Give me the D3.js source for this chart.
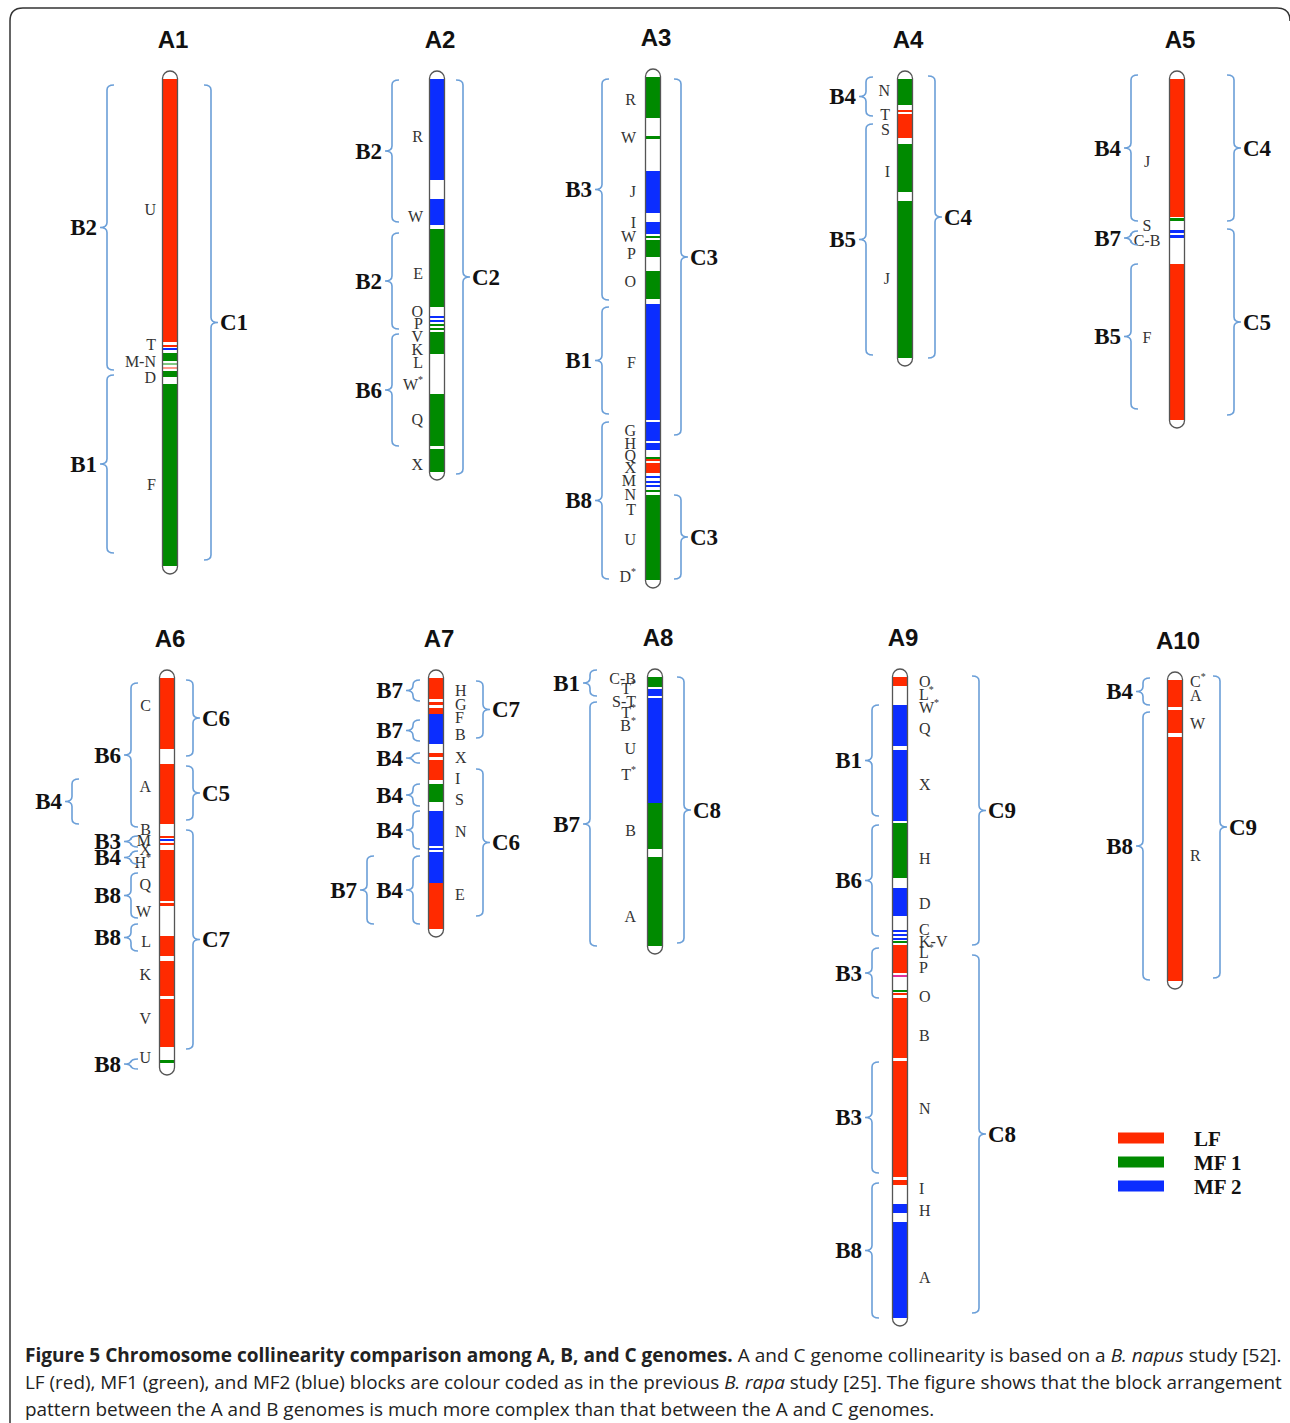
<!DOCTYPE html>
<html>
<head>
<meta charset="utf-8">
<script src="https://cdn.jsdelivr.net/npm/d3@7"></script>
<style>
  body { margin: 0; background: #fff; }
</style>
</head>
<body>
<svg id="fig" width="1290" height="1423"></svg>
<script>
// chromosomes of the A genome and their drawn length (map units)
const chromosomes = ["A1", "A2", "A3", "A4", "A5", "A6", "A7", "A8", "A9", "A10"];
const chromLength = [487, 393, 503, 279, 341, 389, 251, 269, 641, 301];

// coloured blocks: [chromosome, start, end, block type]
const blocks = [
  ["A1", 0, 263, "LF"], ["A1", 266, 268, "LF"], ["A1", 269, 271, "MF2"], ["A1", 274, 282, "MF1"],
  ["A1", 284, 286, "MF1pale"], ["A1", 288, 290, "LFpale"], ["A1", 292, 298, "MF1"], ["A1", 305, 487, "MF1"],
  ["A2", 0, 101, "MF2"], ["A2", 120, 146, "MF2"], ["A2", 150, 228, "MF1"], ["A2", 237, 239, "MF2"],
  ["A2", 241, 243, "MF2"], ["A2", 245, 247, "MF1"], ["A2", 249, 251, "MF1"], ["A2", 253, 275, "MF1"],
  ["A2", 315, 367, "MF1"], ["A2", 370, 393, "MF1"],
  ["A3", 0, 41, "MF1"], ["A3", 59, 62, "MF1"], ["A3", 94, 136, "MF2"], ["A3", 145, 157, "MF2"],
  ["A3", 159, 161, "MF1"], ["A3", 163, 180, "MF1"], ["A3", 194, 222, "MF1"], ["A3", 227, 343, "MF2"],
  ["A3", 345, 364, "MF2"], ["A3", 366, 373, "MF2"], ["A3", 380, 382, "MF1"], ["A3", 382, 384, "LF"],
  ["A3", 386, 396, "LF"], ["A3", 399, 401, "MF2"], ["A3", 404, 406, "MF2"], ["A3", 408, 410, "MF2"],
  ["A3", 413, 415, "MF1"], ["A3", 418, 503, "MF1"],
  ["A4", 0, 26, "MF1"], ["A4", 31, 33, "LF"], ["A4", 35, 59, "LF"], ["A4", 65, 113, "MF1"], ["A4", 122, 279, "MF1"],
  ["A5", 0, 138, "LF"], ["A5", 139, 142, "MF1"], ["A5", 151, 154, "MF2"], ["A5", 156, 159, "MF2"], ["A5", 185, 341, "LF"],
  ["A6", 0, 71, "LF"], ["A6", 86, 146, "LF"], ["A6", 158, 160, "LF"], ["A6", 161, 163, "MF2"],
  ["A6", 165, 167, "LF"], ["A6", 172, 223, "LF"], ["A6", 225, 228, "LF"], ["A6", 258, 278, "LF"],
  ["A6", 283, 318, "LF"], ["A6", 321, 369, "LF"], ["A6", 382, 385, "MF1"],
  ["A7", 0, 21, "LF"], ["A7", 24, 27, "LF"], ["A7", 30, 36, "LF"], ["A7", 36, 66, "MF2"],
  ["A7", 75, 79, "LF"], ["A7", 82, 102, "LF"], ["A7", 106, 124, "MF1"], ["A7", 133, 168, "MF2"],
  ["A7", 170, 172, "MF2"], ["A7", 174, 205, "MF2"], ["A7", 205, 251, "LF"],
  ["A8", 0, 10, "MF1"], ["A8", 12, 19, "MF2"], ["A8", 21, 126, "MF2"], ["A8", 126, 172, "MF1"], ["A8", 180, 269, "MF1"],
  ["A9", 0, 9, "LF"], ["A9", 28, 69, "MF2"], ["A9", 73, 144, "MF2"], ["A9", 146, 201, "MF1"],
  ["A9", 211, 239, "MF2"], ["A9", 253, 255, "MF2"], ["A9", 257, 259, "MF2"], ["A9", 261, 263, "MF2"],
  ["A9", 264, 266, "MF1"], ["A9", 268, 296, "LF"], ["A9", 298, 300, "odd"], ["A9", 313, 315, "MF1"],
  ["A9", 316, 318, "LF"], ["A9", 321, 381, "LF"], ["A9", 384, 500, "LF"], ["A9", 503, 508, "LF"],
  ["A9", 527, 536, "MF2"], ["A9", 545, 641, "MF2"],
  ["A10", 0, 27, "LF"], ["A10", 30, 53, "LF"], ["A10", 57, 301, "LF"]
];

// block names: [chromosome, position, name]
const genes = [
  ["A1", 130, "U"], ["A1", 265, "T"], ["A1", 282, "M-N"], ["A1", 298, "D"], ["A1", 405, "F"],
  ["A2", 57, "R"], ["A2", 137, "W"], ["A2", 194, "E"], ["A2", 232, "O"], ["A2", 244, "P"], ["A2", 257, "V"],
  ["A2", 270, "K"], ["A2", 283, "L"], ["A2", 305, "W*"], ["A2", 340, "Q"], ["A2", 385, "X"],
  ["A3", 22, "R"], ["A3", 60, "W"], ["A3", 114, "J"], ["A3", 145, "I"], ["A3", 159, "W"], ["A3", 176, "P"],
  ["A3", 204, "O"], ["A3", 285, "F"], ["A3", 353, "G"], ["A3", 366, "H"], ["A3", 378, "Q"], ["A3", 390, "X"],
  ["A3", 403, "M"], ["A3", 417, "N"], ["A3", 432, "T"], ["A3", 462, "U"], ["A3", 499, "D*"],
  ["A4", 11, "N"], ["A4", 35, "T"], ["A4", 50, "S"], ["A4", 92, "I"], ["A4", 199, "J"],
  ["A5", 82, "J"], ["A5", 146, "S"], ["A5", 161, "C-B"], ["A5", 258, "F"],
  ["A6", 27, "C"], ["A6", 108, "A"], ["A6", 151, "B"], ["A6", 162, "M"], ["A6", 171, "X"], ["A6", 184, "H*"],
  ["A6", 206, "Q"], ["A6", 233, "W"], ["A6", 263, "L"], ["A6", 296, "K"], ["A6", 340, "V"], ["A6", 379, "U"],
  ["A7", 12, "H"], ["A7", 26, "G"], ["A7", 39, "F"], ["A7", 56, "B"], ["A7", 79, "X"], ["A7", 100, "I"],
  ["A7", 121, "S"], ["A7", 153, "N"], ["A7", 216, "E"],
  ["A8", 1, "C-B"], ["A8", 11, "T*"], ["A8", 24, "S-T"], ["A8", 35, "T*"], ["A8", 48, "B*"], ["A8", 71, "U"],
  ["A8", 97, "T*"], ["A8", 153, "B"], ["A8", 239, "A"],
  ["A9", 4, "O"], ["A9", 17, "L*"], ["A9", 30, "W*"], ["A9", 51, "Q"], ["A9", 107, "X"], ["A9", 181, "H"],
  ["A9", 226, "D"], ["A9", 252, "C"], ["A9", 264, "K-V"], ["A9", 275, "L*"], ["A9", 290, "P"], ["A9", 319, "O"],
  ["A9", 358, "B"], ["A9", 431, "N"], ["A9", 511, "I"], ["A9", 533, "H"], ["A9", 600, "A"],
  ["A10", 1, "C*"], ["A10", 15, "A"], ["A10", 43, "W"], ["A10", 175, "R"]
];

// B genome collinear regions: [chromosome, start, end, label, nesting level]
const bBrackets = [
  ["A1", 6, 291, "B2", 0], ["A1", 296, 474, "B1", 0],
  ["A2", 1, 143, "B2", 0], ["A2", 154, 250, "B2", 0], ["A2", 255, 367, "B6", 0],
  ["A3", 2, 223, "B3", 0], ["A3", 230, 337, "B1", 0], ["A3", 345, 502, "B8", 0],
  ["A4", -2, 37, "B4", 0], ["A4", 45, 276, "B5", 0],
  ["A5", -4, 142, "B4", 0], ["A5", 152, 166, "B7", 0], ["A5", 185, 330, "B5", 0],
  ["A6", 5, 149, "B6", 0], ["A6", 101, 146, "B4", 1], ["A6", 158, 169, "B3", 0], ["A6", 173, 186, "B4", 0],
  ["A6", 195, 240, "B8", 0], ["A6", 246, 273, "B8", 0], ["A6", 381, 391, "B8", 0],
  ["A7", 2, 23, "B7", 0], ["A7", 42, 63, "B7", 0], ["A7", 75, 85, "B4", 0], ["A7", 106, 128, "B4", 0],
  ["A7", 133, 171, "B4", 0], ["A7", 178, 246, "B4", 0], ["A7", 178, 246, "B7", 1],
  ["A8", -7, 19, "B1", 0], ["A8", 25, 269, "B7", 0],
  ["A9", 28, 139, "B1", 0], ["A9", 148, 259, "B6", 0], ["A9", 271, 321, "B3", 0], ["A9", 385, 496, "B3", 0],
  ["A9", 506, 641, "B8", 0],
  ["A10", -2, 25, "B4", 0], ["A10", 32, 300, "B8", 0]
];

// C genome collinear regions: [chromosome, start, end, label]
const cBrackets = [
  ["A1", 6, 481, "C1"], ["A2", 1, 395, "C2"], ["A3", 2, 358, "C3"], ["A3", 418, 502, "C3"],
  ["A4", -3, 279, "C4"], ["A5", -4, 142, "C4"], ["A5", 150, 336, "C5"],
  ["A6", 2, 78, "C6"], ["A6", 88, 142, "C5"], ["A6", 152, 371, "C7"],
  ["A7", 3, 60, "C7"], ["A7", 91, 238, "C6"], ["A8", 0, 266, "C8"],
  ["A9", -1, 268, "C9"], ["A9", 278, 636, "C8"], ["A10", -4, 298, "C9"]
];

const legendKeys = ["LF", "MF1", "MF2"];
const legendLabels = ["LF", "MF 1", "MF 2"];

// ---- layout (pixels) ----
const layout = {
  A1:  { cx: 170,  top: 79,  lx: -14, anchor: "end",    bx: [107],      cr: 211 },
  A2:  { cx: 437,  top: 79,  lx: -14, anchor: "end",    bx: [392],      cr: 463 },
  A3:  { cx: 653,  top: 77,  lx: -17, anchor: "end",    bx: [602],      cr: 681 },
  A4:  { cx: 905,  top: 79,  lx: -15, anchor: "end",    bx: [866],      cr: 935 },
  A5:  { cx: 1177, top: 79,  lx: -30, anchor: "middle", bx: [1131],     cr: 1234 },
  A6:  { cx: 167,  top: 678, lx: -16, anchor: "end",    bx: [131, 72],  cr: 193 },
  A7:  { cx: 436,  top: 678, lx: 19,  anchor: "start",  bx: [413, 367], cr: 483 },
  A8:  { cx: 655,  top: 677, lx: -19, anchor: "end",    bx: [590],      cr: 684 },
  A9:  { cx: 900,  top: 677, lx: 19,  anchor: "start",  bx: [872],      cr: 979 },
  A10: { cx: 1175, top: 680, lx: 15,  anchor: "start",  bx: [1143],     cr: 1220 }
};

const color = d3.scaleOrdinal()
  .domain(["LF", "MF1", "MF2", "LFpale", "MF1pale", "odd"])
  .range(["#ff2a00", "#008a00", "#0b2dff", "#ff9a8c", "#80c880", "#e0309c"]);

const braceColor = "#6b9fd8";
const serif = "'Liberation Serif', 'Times New Roman', serif";
const halfW = 7.5;

const svg = d3.select("#fig");

// frame
svg.append("path")
  .attr("d", "M10,1423 L10,21 Q10,8 23,8 L1277,8 Q1290,8 1290,21")
  .attr("fill", "none").attr("stroke", "#333").attr("stroke-width", 1.5);

// curly brace, opening towards the chromosome
function brace(x, y1, y2, dir) {
  const h = 7 * dir, t = 7 * dir;
  const r = Math.min(5, (y2 - y1) / 3);
  const ym = (y1 + y2) / 2;
  return `M${x + h},${y1} Q${x},${y1} ${x},${y1 + r} L${x},${ym - r} Q${x},${ym} ${x - t},${ym}` +
         ` Q${x},${ym} ${x},${ym + r} L${x},${y2 - r} Q${x},${y2} ${x + h},${y2}`;
}

function addLabel(sel, txt) {
  const parts = txt.split("*");
  sel.append("tspan").text(parts[0]);
  if (txt.includes("*")) {
    sel.append("tspan").attr("font-size", 10).attr("dy", -5).text("*");
  }
}

chromosomes.forEach((name, i) => {
  const L = layout[name];
  const len = chromLength[i];
  const y = d3.scaleLinear().domain([0, len]).range([L.top, L.top + len]);
  const g = svg.append("g").attr("class", "chrom-" + name);

  // title
  g.append("text")
    .attr("x", L.cx + 3).attr("y", y(0) - 40)
    .attr("text-anchor", "middle").attr("dominant-baseline", "central")
    .attr("font-family", "'Liberation Sans', Arial, sans-serif")
    .attr("font-weight", "bold").attr("font-size", 24).attr("fill", "#111")
    .text(name);

  // body
  g.append("rect")
    .attr("x", L.cx - halfW).attr("y", y(0) - 8)
    .attr("width", halfW * 2).attr("height", y(len) - y(0) + 16)
    .attr("rx", halfW).attr("fill", "#fff");

  g.selectAll("rect.block")
    .data(blocks.filter(d => d[0] === name))
    .join("rect")
    .attr("class", "block")
    .attr("x", L.cx - halfW + 0.5).attr("width", halfW * 2 - 1)
    .attr("y", d => y(d[1])).attr("height", d => y(d[2]) - y(d[1]))
    .attr("fill", d => color(d[3]));

  g.append("rect")
    .attr("x", L.cx - halfW).attr("y", y(0) - 8)
    .attr("width", halfW * 2).attr("height", y(len) - y(0) + 16)
    .attr("rx", halfW).attr("fill", "none")
    .attr("stroke", "#555").attr("stroke-width", 1.3);

  // block names
  g.selectAll("text.gene")
    .data(genes.filter(d => d[0] === name))
    .join("text")
    .attr("class", "gene")
    .attr("x", L.cx + L.lx).attr("y", d => y(d[1]))
    .attr("text-anchor", L.anchor).attr("dominant-baseline", "central")
    .attr("font-family", serif).attr("font-size", 16).attr("fill", "#333")
    .each(function (d) { addLabel(d3.select(this), d[2]); });

  // B genome braces (left)
  bBrackets.filter(d => d[0] === name).forEach(d => {
    const x = L.bx[d[4]];
    g.append("path")
      .attr("d", brace(x, y(d[1]), y(d[2]), 1))
      .attr("fill", "none").attr("stroke", braceColor).attr("stroke-width", 1.6);
    g.append("text")
      .attr("x", x - 10).attr("y", y((d[1] + d[2]) / 2))
      .attr("text-anchor", "end").attr("dominant-baseline", "central")
      .attr("font-family", serif).attr("font-weight", "bold").attr("font-size", 23).attr("fill", "#111")
      .text(d[3]);
  });

  // C genome braces (right)
  cBrackets.filter(d => d[0] === name).forEach(d => {
    const x = L.cr;
    g.append("path")
      .attr("d", brace(x, y(d[1]), y(d[2]), -1))
      .attr("fill", "none").attr("stroke", braceColor).attr("stroke-width", 1.6);
    g.append("text")
      .attr("x", x + 9).attr("y", y((d[1] + d[2]) / 2))
      .attr("text-anchor", "start").attr("dominant-baseline", "central")
      .attr("font-family", serif).attr("font-weight", "bold").attr("font-size", 23).attr("fill", "#111")
      .text(d[3]);
  });
});

// legend
const ly = d3.scalePoint().domain(legendKeys).range([1138, 1186]);
const legend = svg.append("g");
legend.selectAll("rect")
  .data(legendKeys).join("rect")
  .attr("x", 1118).attr("width", 46)
  .attr("y", d => ly(d) - 5.5).attr("height", 11)
  .attr("fill", d => color(d));
legend.selectAll("text")
  .data(legendKeys).join("text")
  .attr("x", 1194).attr("y", d => ly(d) + 1)
  .attr("dominant-baseline", "central")
  .attr("font-family", serif).attr("font-weight", "bold").attr("font-size", 21).attr("fill", "#111")
  .text((d, i) => legendLabels[i]);

// caption
const captionLines = [
  { y: 1362, width: 1257, parts: [
    ["Figure 5 Chromosome collinearity comparison among A, B, and C genomes.", "bold"],
    [" A and C genome collinearity is based on a ", ""], ["B. napus", "italic"], [" study [52].", ""]] },
  { y: 1389, width: 1257, parts: [
    ["LF (red), MF1 (green), and MF2 (blue) blocks are colour coded as in the previous ", ""],
    ["B. rapa", "italic"], [" study [25]. The figure shows that the block arrangement", ""]] },
  { y: 1416, width: 910, parts: [
    ["pattern between the A and B genomes is much more complex than that between the A and C genomes.", ""]] }
];
captionLines.forEach(line => {
  const t = svg.append("text")
    .attr("font-family", "'Open Sans', 'Noto Sans', sans-serif")
    .attr("font-size", 19).attr("fill", "#222");
  line.parts.forEach(p => {
    t.append("tspan")
      .attr("font-weight", p[1] === "bold" ? "bold" : null)
      .attr("font-style", p[1] === "italic" ? "italic" : null)
      .text(p[0]);
  });
  const w = t.node().getComputedTextLength();
  t.attr("transform", `translate(25,${line.y}) scale(${line.width / w},1)`);
});
</script>
</body>
</html>
